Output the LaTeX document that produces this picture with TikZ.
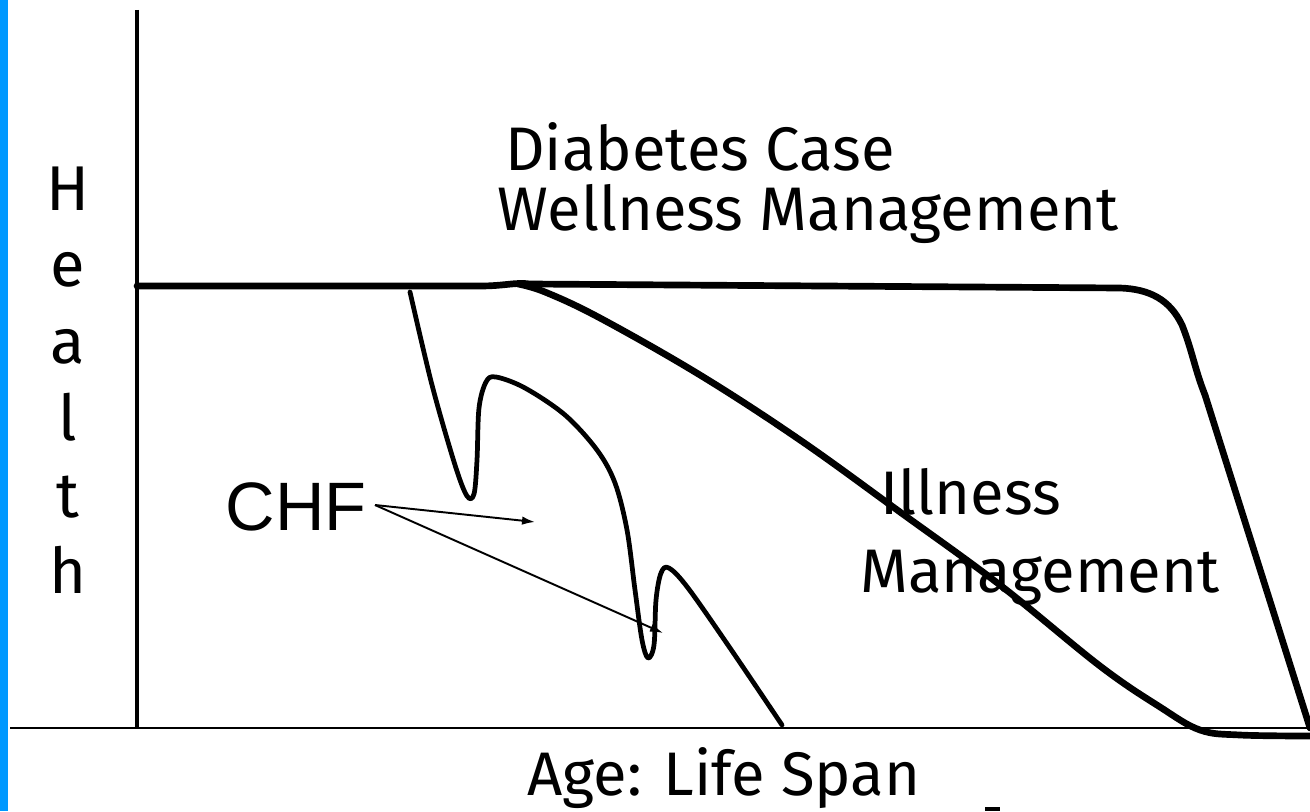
\documentclass[tikz,border=0pt]{standalone}
\usepackage{fontspec}
\setmainfont{Fira Sans}
\newfontfamily\arialfont{Liberation Sans}
\usetikzlibrary{arrows.meta}
\definecolor{sidebar}{HTML}{0099FF}
\begin{document}
\begin{tikzpicture}[x=0.02cm, y=-0.02cm,
  label/.style={inner sep=0pt, font=\fontsize{35pt}{38pt}\selectfont},
  letter/.style={inner sep=0pt, anchor=base, font=\fontsize{36pt}{38pt}\selectfont},
  thickcurve/.style={line width=3.8pt, line cap=round, line join=round},
  chfcurve/.style={line width=2.7pt, line cap=round, line join=round},
  pointer/.style={line width=1.1pt, -{Latex[length=0.26cm,width=0.17cm]}}]
\useasboundingbox (0,0) rectangle (1310,811);
\fill[white] (0,0) rectangle (1310,811);
% left side bar
\fill[sidebar] (0,0) rectangle (8,811);
% axes
\coordinate (ytop) at (137,10);
\coordinate (origin) at (137,728);
\coordinate (xleft) at (10,728);
\coordinate (xright) at (1310,728);
\draw[line width=2.8pt] (ytop) -- (origin);
\draw[line width=1.1pt] (xleft) -- (xright);
% axis labels
\node[letter] (hH) at (68,210) {H};
\node[letter] (he) at (68,286) {e};
\node[letter] (ha) at (68,363) {a};
\node[letter] (hl) at (68,440) {l};
\node[letter] (ht) at (68,517) {t};
\node[letter] (hh) at (68,593) {h};
\node[label, anchor=base west] (age) at (527,795) {Age: Life Span};
% titles
\node[label, anchor=base west] (diab) at (505,170) {Diabetes Case};
\node[label, anchor=base west] (well) at (497,230) {Wellness Management};
\node[label, anchor=base west] (ill1) at (880,514) {Illness};
\node[label, anchor=base west] (ill2) at (860,592) {Management};
% wellness curve
\draw[thickcurve] (137,286) -- (480,286) .. controls (505,286) and (515,282) .. (530,284)
  -- (1120,288) .. controls (1150,289) and (1170,300) .. (1182,325)
  .. controls (1192,350) and (1195,370) .. (1205,395)
  -- (1310,728);
% illness management curve
\draw[thickcurve] plot[smooth, tension=0.6] coordinates {(518,284) (545,292) (600,318) (700,375) (800,440) (900,512) (1000,585) (1100,666) (1160,707) (1200,730) (1240,735) (1310,736)};
% CHF curve
\draw[chfcurve] plot[smooth, tension=0.55] coordinates {(410,292) (432,385) (455,465) (467,496) (474,494) (477,460) (479,408) (486,382) (496,377) (525,388) (565,415) (597,450) (615,483) (627,530) (635,590) (642,640) (648,658) (654,645) (656,600) (661,573) (669,568) (688,588) (730,648) (782,725)};
% bottom edge mark
\fill (985,807) rectangle (1000,811);
% CHF label and pointers
\node[inner sep=0pt, font=\arialfont\fontsize{39pt}{41pt}\selectfont] (chf) at (296,507) {CHF};
\coordinate (from) at (375,505);
\coordinate (dip1) at (535,522);
\coordinate (dip2) at (663,633);
\draw[pointer] (from) -- (dip1);
\draw[pointer] (from) -- (dip2);
\end{tikzpicture}
\end{document}
